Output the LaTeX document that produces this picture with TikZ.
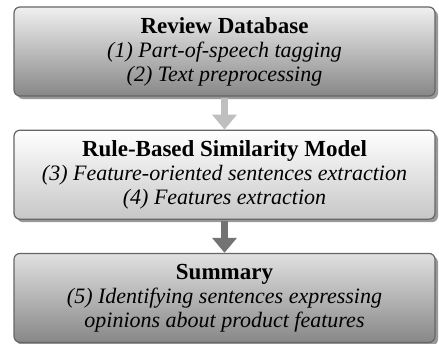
\documentclass[tikz,border=0pt]{standalone}
\usepackage{fontspec}
\setmainfont{Liberation Serif}
\usetikzlibrary{positioning,shadows,arrows.meta}

\tikzset{
  etapa/.style={draw=black!60, line width=1.2pt, rounded corners=6pt,
    minimum width=421pt, minimum height=89pt, align=center, inner sep=2pt,
    font=\fontsize{22}{24}\selectfont,
    drop shadow={shadow xshift=3pt, shadow yshift=-3pt, fill=black!40, opacity=1}},
  flecha/.style={line width=7pt, -{Triangle[length=15pt,width=24pt]}}
}

\begin{document}
\begin{tikzpicture}[node distance=33pt]

    % Marco fijo
    \useasboundingbox (0pt,0pt) rectangle (439pt,-343pt);

    % Cajas
    \node[etapa, top color=black!6, bottom color=black!47] (review) at (224.5pt,-51.5pt)
        {\textbf{\fontsize{23}{24}\selectfont Review Database}\\ \textit{(1) Part-of-speech tagging}\\ \textit{(2) Text preprocessing}};
    \node[etapa, below=of review, top color=white, bottom color=black!22] (model)
        {\textbf{\fontsize{23}{24}\selectfont Rule-Based Similarity Model}\\ \textit{(3) Feature-oriented sentences extraction}\\ \textit{(4) Features extraction}};
    \node[etapa, below=of model, top color=black!12, bottom color=black!47] (summary)
        {\textbf{\fontsize{23}{24}\selectfont Summary}\\ \textit{(5) Identifying sentences expressing}\\ \textit{opinions about product features}};

    % Flechas
    \draw[flecha, black!25] (review.south) ++(0,-1pt) coordinate (r1) (r1) -- (model.north);
    \draw[flecha, black!55] (model.south) ++(0,-1pt) coordinate (m1) (m1) -- (summary.north);

\end{tikzpicture}
\end{document}
